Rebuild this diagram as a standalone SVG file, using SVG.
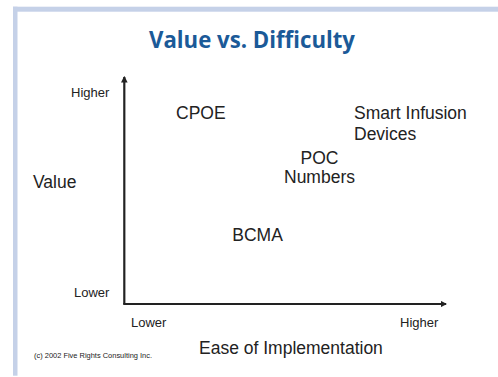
<svg xmlns="http://www.w3.org/2000/svg" width="498" height="377" viewBox="0 0 498 377">
<style>
  .frame { fill: #c5d1e8; }
  .title { font-family: "Open Sans", "DejaVu Sans", sans-serif; font-weight: bold; font-size: 23px; fill: #1b5a98; }
  .lbl { font-family: "Liberation Sans", Arial, sans-serif; font-size: 17.5px; fill: #222; }
  .small { font-family: "Liberation Sans", Arial, sans-serif; font-size: 13px; fill: #222; }
  .copy { font-family: "Liberation Sans", Arial, sans-serif; font-size: 7.4px; fill: #222; }
  .axis { stroke: #222; stroke-width: 2.2; fill: none; }
</style>
<defs>
  <marker id="arr" viewBox="0 0 6 6" refX="5" refY="3" markerWidth="3" markerHeight="3" orient="auto" markerUnits="strokeWidth">
    <path d="M0,0 L6,3 L0,6 Z" fill="#222"/>
  </marker>
</defs>
<rect width="498" height="377" fill="#ffffff"/>
<g id="frame">
  <rect class="frame" x="13" y="6.7" width="485" height="5"/>
  <rect class="frame" x="13" y="6.7" width="4.5" height="369"/>
</g>
<g id="title"><text class="title" x="252" y="48" text-anchor="middle" textLength="206" lengthAdjust="spacingAndGlyphs">Value vs. Difficulty</text></g>
<g id="connectors">
  <line class="axis" x1="124.3" y1="304" x2="124.3" y2="77" marker-end="url(#arr)"/>
  <line class="axis" x1="123.2" y1="304" x2="446" y2="304" marker-end="url(#arr)"/>
</g>
<g id="y-higher"><text class="small" x="71" y="97">Higher</text></g>
<g id="y-lower"><text class="small" x="74" y="297">Lower</text></g>
<g id="y-title"><text class="lbl" x="33" y="188">Value</text></g>
<g id="x-lower"><text class="small" x="131" y="327">Lower</text></g>
<g id="x-higher"><text class="small" x="400" y="327">Higher</text></g>
<g id="x-title"><text class="lbl" x="199" y="354">Ease of Implementation</text></g>
<g id="cpoe"><text class="lbl" x="176" y="119">CPOE</text></g>
<g id="smart-infusion"><text class="lbl" x="354" y="119.3">Smart Infusion<tspan x="354" y="140">Devices</tspan></text></g>
<g id="poc"><text class="lbl" x="319.5" y="164" text-anchor="middle">POC<tspan x="319.5" y="182.7">Numbers</tspan></text></g>
<g id="bcma"><text class="lbl" x="232.3" y="240.7">BCMA</text></g>
<g id="copyright"><text class="copy" x="34" y="358" textLength="118" lengthAdjust="spacingAndGlyphs">(c) 2002 Five Rights Consulting Inc.</text></g>
</svg>
